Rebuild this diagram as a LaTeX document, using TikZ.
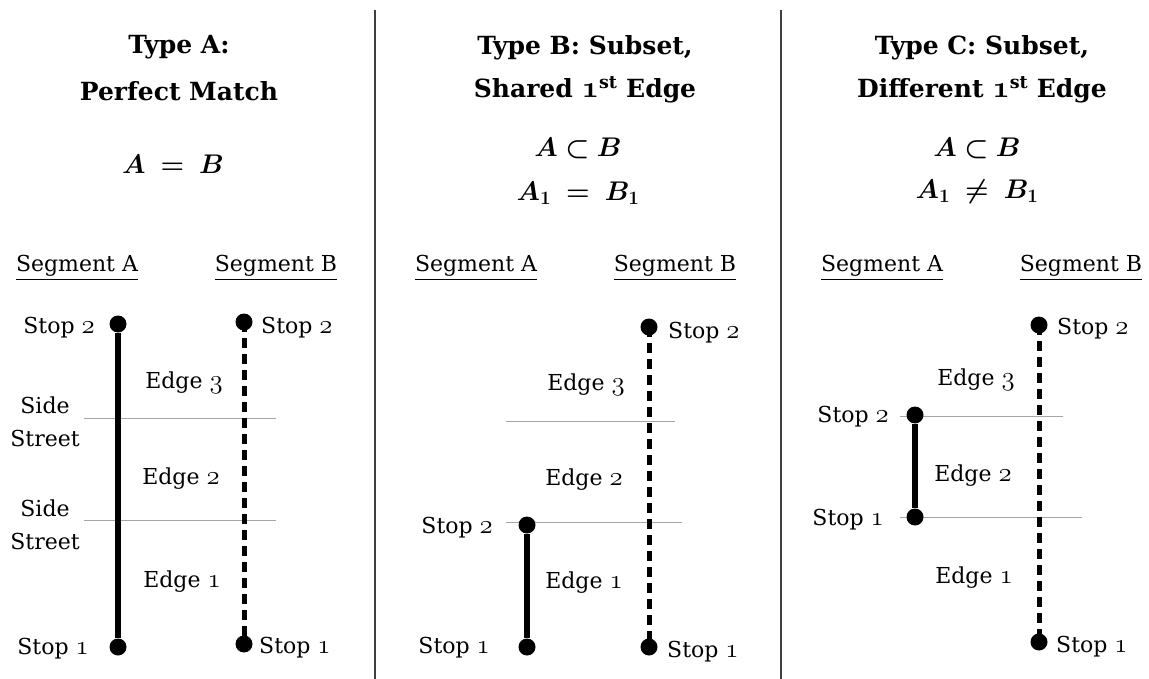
\documentclass[tikz,border=0pt]{standalone}
\usepackage{amsmath,bm}
\usepackage{fix-cm}
\usepackage{fontspec}
\setmainfont{DejaVu Serif}
\usetikzlibrary{positioning}
\newcommand{\os}[1]{\scalebox{1.22}{\usefont{OML}{cmm}{m}{it}#1}}
\newcommand{\osb}[1]{\scalebox{1.22}{\usefont{OML}{cmm}{b}{it}#1}}
\tikzset{
  lbl/.style={font=\fontsize{22}{26}\selectfont, inner sep=0pt},
  ttl/.style={font=\fontsize{25}{29}\selectfont\bfseries, inner sep=0pt},
  mth/.style={font=\fontsize{27}{30}\selectfont, inner sep=0pt},
  dot/.style={circle, fill=black, minimum size=17pt, inner sep=0pt},
  solidseg/.style={line width=5.5pt},
  dashseg/.style={line width=5pt, dash pattern=on 10pt off 6pt},
  street/.style={gray!70, line width=0.8pt},
  divider/.style={black!75, line width=1.3pt},
}
\begin{document}
\begin{tikzpicture}[x=1pt,y=-1pt]
\useasboundingbox (0,0) rectangle (1149,679);
% dividers
\coordinate (d1t) at (375,10); \coordinate (d1b) at (375,679);
\coordinate (d2t) at (781,10); \coordinate (d2b) at (781,679);
\draw[divider] (d1t) -- (d1b);
\draw[divider] (d2t) -- (d2b);

% ===== Panel A =====
\node[ttl] (tA1) at (179,47) {Type A:};
\node[ttl] (tA2) at (179,91) {Perfect Match};
\node[mth] (mA) at (173,164) {$\bm{A \;=\; B}$};
\node[lbl] (sA1) at (77,268) {\underline{Segment A}};
\node[lbl] (sA2) at (276,268) {\underline{Segment B}};
\coordinate (gA1l) at (84,418); \coordinate (gA1r) at (276,418);
\coordinate (gA2l) at (84,520); \coordinate (gA2r) at (276,520);
\draw[street] (gA1l) -- (gA1r);
\draw[street] (gA2l) -- (gA2r);
\node[dot] (Aa2) at (118,324) {};
\node[dot] (Aa1) at (118,647) {};
\node[dot] (Ab2) at (244,322) {};
\node[dot] (Ab1) at (244,644) {};
\draw[solidseg] (Aa2) -- (Aa1);
\draw[dashseg] (Ab2.center) -- (Ab1.center);
\node[lbl, anchor=east] (LAa2) at (95,328) {Stop \os{2}};
\node[lbl, anchor=east] (LAa1) at (89,649) {Stop \os{1}};
\node[lbl, anchor=west] (LAb2) at (261,328) {Stop \os{2}};
\node[lbl, anchor=west] (LAb1) at (259,648) {Stop \os{1}};
\node[lbl] (eA3) at (184,383) {Edge \os{3}};
\node[lbl] (eA2) at (181,479) {Edge \os{2}};
\node[lbl] (eA1) at (182,582) {Edge \os{1}};
\node[lbl, align=center] (ss1) at (45,422) {Side\\[7pt]Street};
\node[lbl, align=center] (ss2) at (45,525) {Side\\[7pt]Street};

% ===== Panel B =====
\node[ttl] (tB1) at (585,48) {Type B: Subset,};
\node[ttl] (tB2) at (585,90) {Shared \osb{1}\textsuperscript{st} Edge};
\node[mth] (mB1) at (578,148) {$\bm{A \subset B}$};
\node[mth] (mB2) at (578,193) {$\bm{A_1 \;=\; B_1}$};
\node[lbl] (sB1) at (476,268) {\underline{Segment A}};
\node[lbl] (sB2) at (675,268) {\underline{Segment B}};
\coordinate (gB1l) at (506,421); \coordinate (gB1r) at (675,421);
\coordinate (gB2l) at (506,522); \coordinate (gB2r) at (682,522);
\draw[street] (gB1l) -- (gB1r);
\draw[street] (gB2l) -- (gB2r);
\node[dot] (Ba2) at (527,525) {};
\node[dot] (Ba1) at (527,647) {};
\node[dot] (Bb2) at (649,327) {};
\node[dot] (Bb1) at (649,647) {};
\draw[solidseg] (Ba2) -- (Ba1);
\draw[dashseg] (Bb2.center) -- (Bb1.center);
\node[lbl, anchor=east] (LBa2) at (493,528) {Stop \os{2}};
\node[lbl, anchor=east] (LBa1) at (490,648) {Stop \os{1}};
\node[lbl, anchor=west] (LBb2) at (668,333) {Stop \os{2}};
\node[lbl, anchor=west] (LBb1) at (667,652) {Stop \os{1}};
\node[lbl] (eB3) at (586,385) {Edge \os{3}};
\node[lbl] (eB2) at (584,480) {Edge \os{2}};
\node[lbl] (eB1) at (584,583) {Edge \os{1}};

% ===== Panel C =====
\node[ttl] (tC1) at (982,48) {Type C: Subset,};
\node[ttl] (tC2) at (982,90) {Different \osb{1}\textsuperscript{st} Edge};
\node[mth] (mC1) at (977,148) {$\bm{A \subset B}$};
\node[mth] (mC2) at (977,192) {$\bm{A_1 \;\neq\; B_1}$};
\node[lbl] (sC1) at (882,268) {\underline{Segment A}};
\node[lbl] (sC2) at (1081,268) {\underline{Segment B}};
\coordinate (gC1l) at (900,416); \coordinate (gC1r) at (1063,416);
\coordinate (gC2l) at (900,517); \coordinate (gC2r) at (1082,517);
\draw[street] (gC1l) -- (gC1r);
\draw[street] (gC2l) -- (gC2r);
\node[dot] (Ca2) at (915,415) {};
\node[dot] (Ca1) at (915,517) {};
\node[dot] (Cb2) at (1039,325) {};
\node[dot] (Cb1) at (1039,642) {};
\draw[solidseg] (Ca2) -- (Ca1);
\draw[dashseg] (Cb2.center) -- (Cb1.center);
\node[lbl, anchor=east] (LCa2) at (889,417) {Stop \os{2}};
\node[lbl, anchor=east] (LCa1) at (884,520) {Stop \os{1}};
\node[lbl, anchor=west] (LCb2) at (1057,329) {Stop \os{2}};
\node[lbl, anchor=west] (LCb1) at (1056,647) {Stop \os{1}};
\node[lbl] (eC3) at (976,380) {Edge \os{3}};
\node[lbl] (eC2) at (973,476) {Edge \os{2}};
\node[lbl] (eC1) at (974,578) {Edge \os{1}};
\end{tikzpicture}
\end{document}
